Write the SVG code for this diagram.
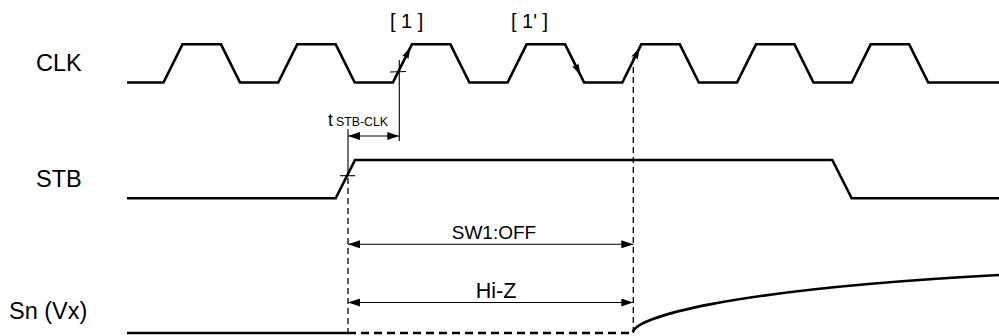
<svg xmlns="http://www.w3.org/2000/svg" width="999" height="336" viewBox="0 0 999 336">
<defs>
<style>
.lbl{font-family:"Liberation Sans",Arial,Helvetica,sans-serif;fill:#000}
.wave{fill:none;stroke:#000;stroke-width:2.6;stroke-linejoin:miter}
.thin{fill:none;stroke:#000;stroke-width:1.1}
.dash{fill:none;stroke:#000;stroke-width:1.3;stroke-dasharray:6,4}
.dim{fill:none;stroke:#000;stroke-width:1.1;marker-start:url(#ah);marker-end:url(#ah)}
.edgearrow{fill:none;stroke:#000;stroke-width:1.5;marker-end:url(#eh)}
</style>
<marker id="ah" viewBox="0 0 12 8" refX="12" refY="4" markerWidth="12" markerHeight="8" markerUnits="userSpaceOnUse" orient="auto-start-reverse">
<path d="M0,0 L12,4 L0,8 Z" fill="#000"/>
</marker>
<marker id="eh" viewBox="0 0 12 8" refX="12" refY="4" markerWidth="13" markerHeight="8" markerUnits="userSpaceOnUse" orient="auto">
<path d="M0,0.5 L12,4 L0,7.5 L2,4 Z" fill="#000"/>
</marker>
</defs>
<rect width="999" height="336" fill="#fff"/>

<g id="labels">
<text class="lbl" x="36" y="71" font-size="23.5">CLK</text>
<text class="lbl" x="36" y="187" font-size="23.5">STB</text>
<text class="lbl" x="9" y="319" font-size="23.5">Sn (Vx)</text>
<text class="lbl" x="390" y="28" font-size="20" xml:space="preserve">[ 1 ]</text>
<text class="lbl" x="511" y="28" font-size="20" xml:space="preserve">[ 1' ]</text>
<text class="lbl" x="328" y="125.7" font-size="17.5">t</text>
<text class="lbl" x="336" y="125.7" font-size="12.3">STB-CLK</text>
<text class="lbl" x="494" y="239.3" font-size="19" text-anchor="middle">SW1:OFF</text>
<text class="lbl" x="496" y="297.7" font-size="21.5" text-anchor="middle">Hi-Z</text>
</g>

<g id="clk">
<path class="wave" d="M127,82.5 L163.5,82.5 L182.5,44.3 L221,44.3 L240,82.5 L278.2,82.5 L297.2,44.3 L335.7,44.3 L354.7,82.5 L392.9,82.5 L411.9,44.3 L450.4,44.3 L469.4,82.5 L507.6,82.5 L526.6,44.3 L565.1,44.3 L584.1,82.5 L622.3,82.5 L641.3,44.3 L679.8,44.3 L698.8,82.5 L737,82.5 L756,44.3 L794.5,44.3 L813.5,82.5 L851.7,82.5 L870.7,44.3 L909.2,44.3 L928.2,82.5 L999,82.5"/>
</g>

<g id="stb">
<path class="wave" d="M127,198.3 L335.7,198.3 L355,160 L832.3,160 L851.7,198.3 L999,198.3"/>
</g>

<g id="sn">
<path class="wave" d="M127,333 L348,333"/>
<path fill="none" stroke="#000" stroke-width="2.6" stroke-dasharray="8,5" d="M348,333 L633,333"/>
<path class="wave" d="M633,332 C636,318 720,290 999,275"/>
</g>

<g id="connectors">
<path class="thin" d="M399.3,60 L399.3,141"/>
<path class="thin" d="M390,72 L406,71.5"/>
<path class="thin" d="M348,129 L348,176"/>
<path class="thin" d="M340,175.7 L355,175.7"/>
<path class="dim" d="M348,136 L399.3,136"/>
<path class="edgearrow" d="M399.3,69.6 L410.6,47"/>
<path class="edgearrow" d="M571,56.3 L580.6,75.5"/>
<path class="edgearrow" d="M633,61 L639.8,47.4"/>
<path class="dash" d="M348,178 L348,333"/>
<path class="dash" d="M633.3,57 L633.3,333"/>
<path class="dim" d="M348,244.3 L633.3,244.3"/>
<path class="dim" d="M348,302.5 L633.3,302.5"/>
</g>
</svg>
